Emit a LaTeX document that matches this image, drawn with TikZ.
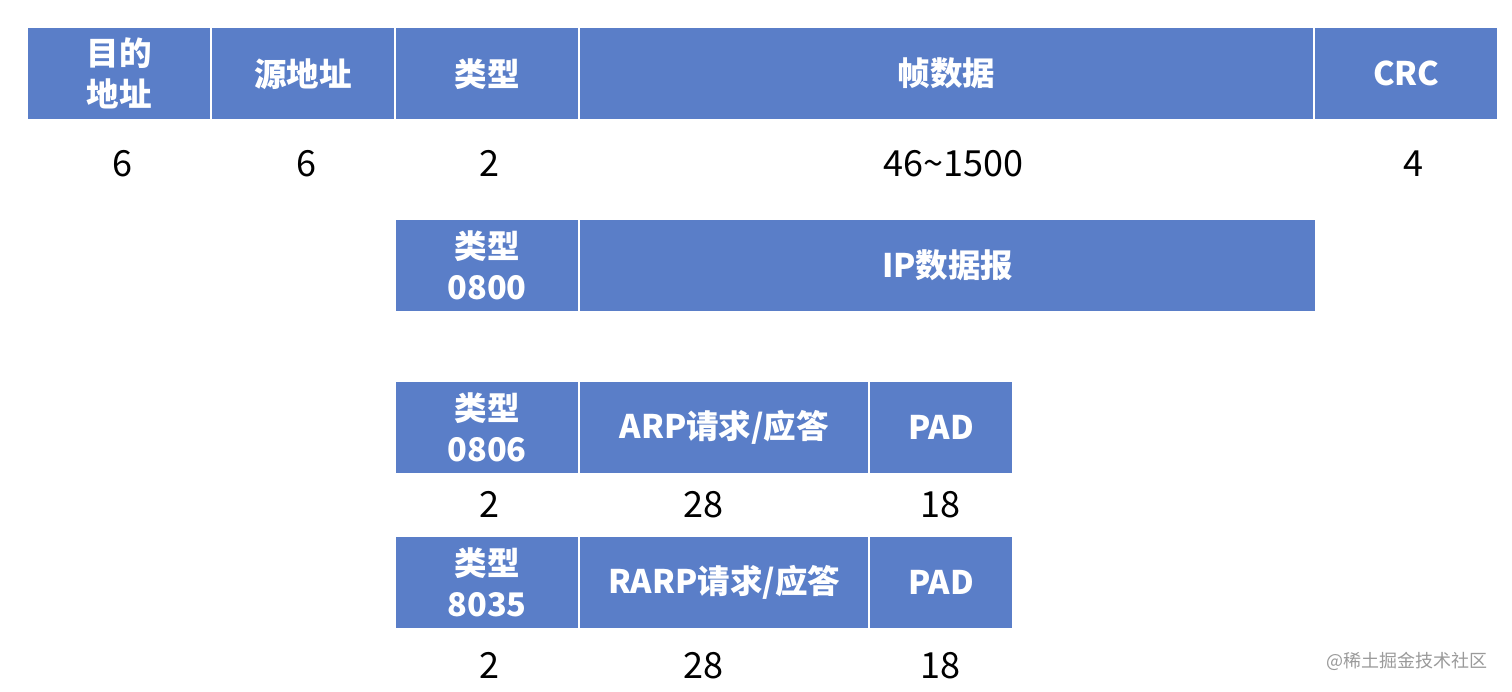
\documentclass[tikz,border=0pt]{standalone}
\usepackage{fontspec}
\setmainfont{Noto Sans CJK SC}
\usepackage{tikz}
\definecolor{fieldblue}{HTML}{5A7EC8}
\definecolor{markgray}{HTML}{9A9A9A}
\tikzset{
    field/.style={fill=fieldblue, text=white, font=\fontsize{32.5}{41}\selectfont\bfseries,
        inner sep=0pt, align=center, anchor=north west, minimum height=91pt},
    bytes/.style={font=\fontsize{36}{40}\selectfont, text=black, inner sep=0pt}
}

\begin{document}
\begin{tikzpicture}[x=1pt, y=-1pt]
                \fill[white] (0,0) rectangle (1512,691);
                \useasboundingbox (0,0) rectangle (1512,691);
                \node[field, minimum width=182pt] (dst) at (28,28) {目的\\地址};
                \node[field, minimum width=182pt] (src) at (212,28) {源地址};
                \node[field, minimum width=182pt] (type) at (396,28) {类型};
                \node[field, minimum width=733pt] (data) at (580,28) {帧数据};
                \node[field, minimum width=182pt] (crc) at (1315,28) {CRC};
                \node[bytes] (ndst) at ([xshift=3pt, yshift=-44pt]dst.south) {6};
                \node[bytes] (nsrc) at ([xshift=3pt, yshift=-44pt]src.south) {6};
                \node[bytes] (ntype) at ([xshift=2pt, yshift=-44pt]type.south) {2};
                \node[bytes] (ndata) at ([xshift=7pt, yshift=-44pt]data.south) {46\char`~1500};
                \node[bytes] (ncrc) at ([xshift=7pt, yshift=-44pt]crc.south) {4};
                \node[field, minimum width=182pt] (iptype) at (396,220) {类型\\0800};
                \node[field, minimum width=735pt] (ip) at (580,220) {IP数据报};
                \node[field, minimum width=182pt] (arptype) at (396,382) {类型\\0806};
                \node[field, minimum width=288pt] (arp) at (580,382) {ARP请求/应答};
                \node[field, minimum width=142pt] (arppad) at (870,382) {PAD};
                \node[bytes] (narptype) at ([xshift=2pt, yshift=-31pt]arptype.south) {2};
                \node[bytes] (narp) at ([xshift=-21pt, yshift=-31pt]arp.south) {28};
                \node[bytes] (narppad) at ([xshift=-1pt, yshift=-31pt]arppad.south) {18};
                \node[field, minimum width=182pt] (rarptype) at (396,537) {类型\\8035};
                \node[field, minimum width=288pt] (rarp) at (580,537) {RARP请求/应答};
                \node[field, minimum width=142pt] (rarppad) at (870,537) {PAD};
                \node[bytes] (nrarptype) at ([xshift=2pt, yshift=-37pt]rarptype.south) {2};
                \node[bytes] (nrarp) at ([xshift=-21pt, yshift=-37pt]rarp.south) {28};
                \node[bytes] (nrarppad) at ([xshift=-1pt, yshift=-37pt]rarppad.south) {18};
                \node[text=markgray, font=\fontsize{18}{20}\selectfont, anchor=east] (mark) at (1491,661) {@稀土掘金技术社区};
            \end{tikzpicture}
\end{document}
